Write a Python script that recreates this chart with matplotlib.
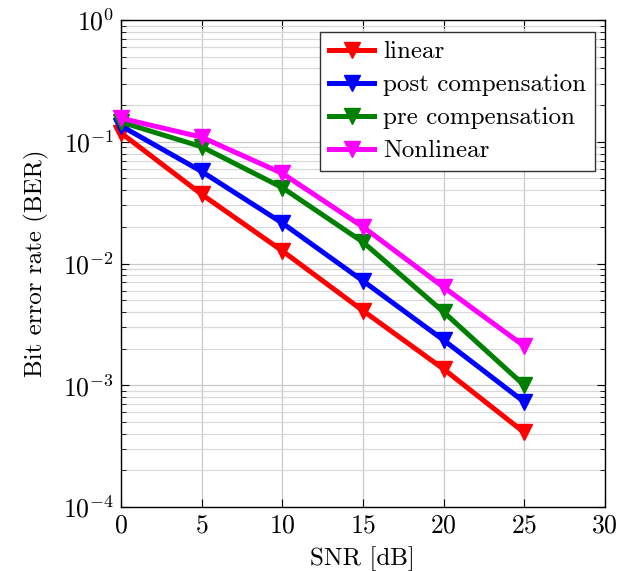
import numpy as np
import matplotlib
matplotlib.use('Agg')
import matplotlib.pyplot as plt
from matplotlib.ticker import LogLocator, NullFormatter

plt.rcParams['font.family'] = 'serif'
plt.rcParams['font.serif'] = ['cmr10', 'DejaVu Serif']
plt.rcParams['mathtext.fontset'] = 'cm'
plt.rcParams['axes.formatter.use_mathtext'] = True

snr = [0, 5, 10, 15, 20, 25]
ber_linear = [0.118, 0.037, 0.0127, 0.0041, 0.00136, 0.00041]
ber_post = [0.135, 0.057, 0.0215, 0.0072, 0.00235, 0.00073]
ber_pre = [0.145, 0.091, 0.042, 0.015, 0.0040, 0.0010]
ber_nonlin = [0.156, 0.109, 0.055, 0.020, 0.0064, 0.0021]

series = [
    ('linear', ber_linear, (1, 0, 0)),
    ('post compensation', ber_post, (0, 0, 1)),
    ('pre compensation', ber_pre, (0, 0.5, 0)),
    ('Nonlinear', ber_nonlin, (1, 0, 1)),
]

fig = plt.figure(figsize=(6.32, 5.71), dpi=100)
ax = fig.add_axes([0.1915, 0.112, 0.7655, 0.853])

for name, vals, col in series:
    ax.plot(snr, vals, color=col, lw=3.6, marker='v', markersize=11.5,
            label=name, clip_on=False, zorder=3)

ax.set_yscale('log')
ax.set_xlim(0, 30)
ax.set_ylim(1e-4, 1)
ax.set_xticks(range(0, 31, 5))
ax.yaxis.set_major_locator(LogLocator(base=10, numticks=10))
ax.yaxis.set_minor_locator(LogLocator(base=10, subs=np.arange(2, 10), numticks=20))
ax.yaxis.set_minor_formatter(NullFormatter())

ax.grid(True, which='major', color='#c8c8c8', lw=0.9)
ax.grid(True, which='minor', axis='y', color='#d8d8d8', lw=0.9)
ax.set_axisbelow(True)

ax.tick_params(which='both', direction='in', top=True, right=True, labelsize=18.5, pad=5)
ax.tick_params(which='major', length=6, width=0.8)
ax.tick_params(which='minor', length=3.5, width=0.6)
for s in ax.spines.values():
    s.set_linewidth(1.0)

ax.set_xlabel('SNR [dB]', fontsize=18, labelpad=6)
ax.set_ylabel('Bit error rate (BER)', fontsize=18, labelpad=10)

leg = ax.legend(loc='upper right', fontsize=18, fancybox=False, framealpha=1,
                edgecolor='#333333', handlelength=1.8, borderpad=0.35,
                labelspacing=0.42, handletextpad=0.35, borderaxespad=0,
                bbox_to_anchor=(0.979, 0.975))
leg.get_frame().set_linewidth(1.0)

fig.savefig('out.png', dpi=100)
